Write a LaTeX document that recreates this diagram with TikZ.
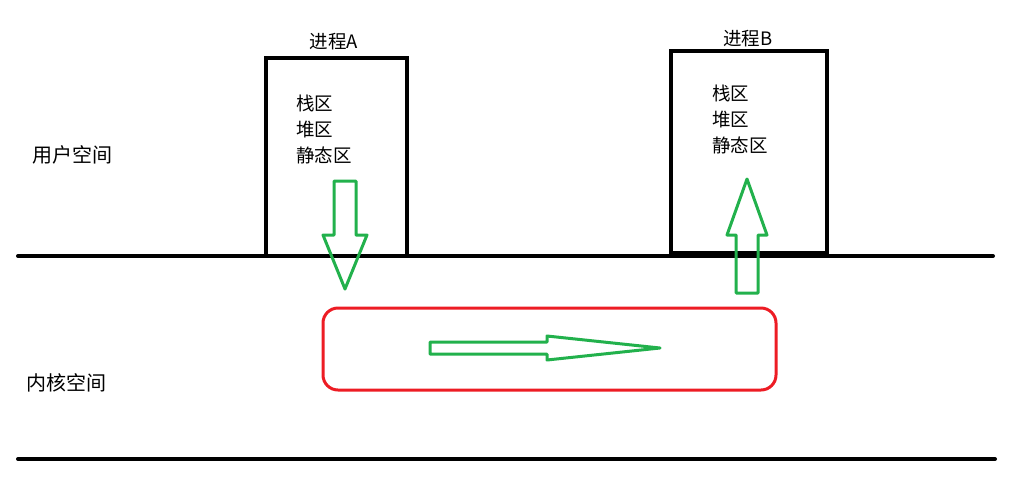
\documentclass[tikz,border=0pt]{standalone}
\usepackage{fontspec}
\setmainfont{Noto Sans CJK SC}
\begin{document}
\begin{tikzpicture}[x=1pt,y=-1pt,
  lbl/.style={inner sep=0pt,font=\fontsize{18.5}{26}\selectfont},
  big/.style={inner sep=0pt,font=\fontsize{20}{26}\selectfont},
  blk/.style={line width=4pt,black},
  grn/.style={draw={rgb,255:red,34;green,177;blue,76},line width=3pt,line join=round},
  redbox/.style={draw={rgb,255:red,237;green,28;blue,36},line width=3pt,rounded corners=15pt}]
\useasboundingbox (0,0) rectangle (1023,491);
% separator lines
\draw[blk,line cap=round] (18,256) -- (993,256);
\draw[blk,line cap=round] (18,459) -- (995,459);
% process boxes
\draw[blk] (266,58) rectangle (407,256);
\draw[blk] (671,51) rectangle (827,253);
\node[lbl] (ta) at (334,42) {进程A};
\node[lbl] (tb) at (748,39) {进程B};
\node[lbl,anchor=west,align=left] (ma) at (296,129) {栈区\\堆区\\静态区};
\node[lbl,anchor=west,align=left] (mb) at (712,119) {栈区\\堆区\\静态区};
% space labels
\node[big,anchor=west] (us) at (32,155) {用户空间};
\node[big,anchor=west] (ks) at (26,383) {内核空间};
% kernel box
\draw[redbox] (323,308) rectangle (776,390);
% arrows
\draw[grn] (334,181) -- (356,181) -- (356,235) -- (367,235) -- (345,289) -- (323,235) -- (334,235) -- cycle;
\draw[grn] (736,293) -- (758,293) -- (758,235) -- (767,235) -- (747,179) -- (727,235) -- (736,235) -- cycle;
\draw[grn] (430,342) -- (547,342) -- (547,336) -- (660,348) -- (547,360) -- (547,354) -- (430,354) -- cycle;
\end{tikzpicture}
\end{document}
